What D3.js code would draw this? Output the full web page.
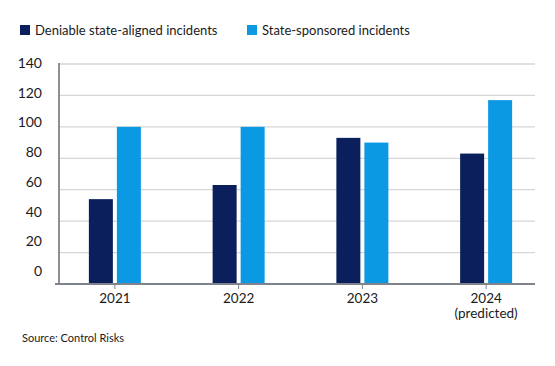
<!DOCTYPE html>
<html>
<head>
<meta charset="utf-8">
<script src="https://cdn.jsdelivr.net/npm/d3@7"></script>
<style>
  body { margin: 0; background: #fff; }
  text { font-family: Lato, "Open Sans", sans-serif; fill: #1a1a1a; }
</style>
</head>
<body>
<svg></svg>
<script>
var years = ["2021", "2022", "2023", "2024"];
var yearNotes = ["", "", "", "(predicted)"];
var seriesNames = ["Deniable state-aligned incidents", "State-sponsored incidents"];
var deniable = [54, 63, 93, 83];
var sponsored = [100, 100, 90, 117];
var yTicks = [0, 20, 40, 60, 80, 100, 120, 140];
var colors = ["#0a1f5c", "#0a99e2"];

var width = 555, height = 366;

var svg = d3.select("svg")
    .attr("width", width)
    .attr("height", height);

// plot area
var y = d3.scaleLinear().domain([0, 140]).range([284, 64]);
// tick labels in the original sit a little off the gridlines
var yLabel = d3.scaleLinear().domain([0, 140]).range([271, 63]);

var x = d3.scaleBand().domain(years).range([53, 548]);
var x1 = d3.scaleBand().domain([0, 1]).range([-26, 26]).paddingInner(0.143);

// gridlines
svg.append("g")
  .selectAll("line")
  .data(yTicks.slice(1))
  .enter()
  .append("line")
    .attr("x1", 59)
    .attr("x2", 535)
    .attr("y1", function(d) { return y(d); })
    .attr("y2", function(d) { return y(d); })
    .attr("stroke", "#d6d6d6")
    .attr("stroke-width", 1.3);

// y labels
svg.append("g")
    .attr("transform", "translate(42,0)")
    .call(d3.axisLeft(yLabel).tickValues(yTicks).tickSize(0).tickPadding(0))
    .call(function(g) { g.select(".domain").remove(); })
    .selectAll("text")
    .style("font-size", "14px")
    .style("font-family", "Lato, sans-serif")
    .attr("fill", "#222");

// bars
var groups = svg.append("g")
  .selectAll("g")
  .data(years)
  .enter()
  .append("g")
    .attr("transform", function(d) { return "translate(" + (x(d) + x.bandwidth() / 2) + ",0)"; });

groups.selectAll("rect")
  .data(function(d, i) { return [deniable[i], sponsored[i]]; })
  .enter()
  .append("rect")
    .attr("x", function(d, j) { return x1(j); })
    .attr("width", x1.bandwidth())
    .attr("y", function(d) { return y(d); })
    .attr("height", function(d) { return y(0) - y(d); })
    .attr("fill", function(d, j) { return colors[j]; });

// axis lines
svg.append("line")
    .attr("x1", 59).attr("x2", 59)
    .attr("y1", 63).attr("y2", 284)
    .attr("stroke", "#7f848c").attr("stroke-width", 1.8);
svg.append("line")
    .attr("x1", 55).attr("x2", 535)
    .attr("y1", 284).attr("y2", 284)
    .attr("stroke", "#7f848c").attr("stroke-width", 1.8);

// x axis ticks and labels
var xg = svg.append("g")
  .selectAll("g")
  .data(years)
  .enter()
  .append("g")
    .attr("transform", function(d) { return "translate(" + (x(d) + x.bandwidth() / 2) + ",0)"; });

xg.append("line")
    .attr("y1", 284).attr("y2", 289)
    .attr("stroke", "#7f848c").attr("stroke-width", 1);

xg.append("text")
    .attr("y", 303)
    .attr("text-anchor", "middle")
    .style("font-size", "13.5px")
    .text(function(d) { return d; });

xg.append("text")
    .attr("y", 318)
    .attr("text-anchor", "middle")
    .style("font-size", "13.5px")
    .text(function(d, i) { return yearNotes[i]; });

// legend
var legendX = [20, 247];
var legend = svg.append("g")
  .selectAll("g")
  .data(seriesNames)
  .enter()
  .append("g")
    .attr("transform", function(d, i) { return "translate(" + legendX[i] + ",25)"; });

legend.append("rect")
    .attr("width", 10).attr("height", 10)
    .attr("fill", function(d, i) { return colors[i]; });

legend.append("text")
    .attr("x", 15)
    .attr("y", 10)
    .style("font-size", "13px")
    .text(function(d) { return d; });

// source
svg.append("text")
    .attr("x", 22)
    .attr("y", 342)
    .style("font-size", "11px")
    .text("Source: Control Risks");
</script>
</body>
</html>
